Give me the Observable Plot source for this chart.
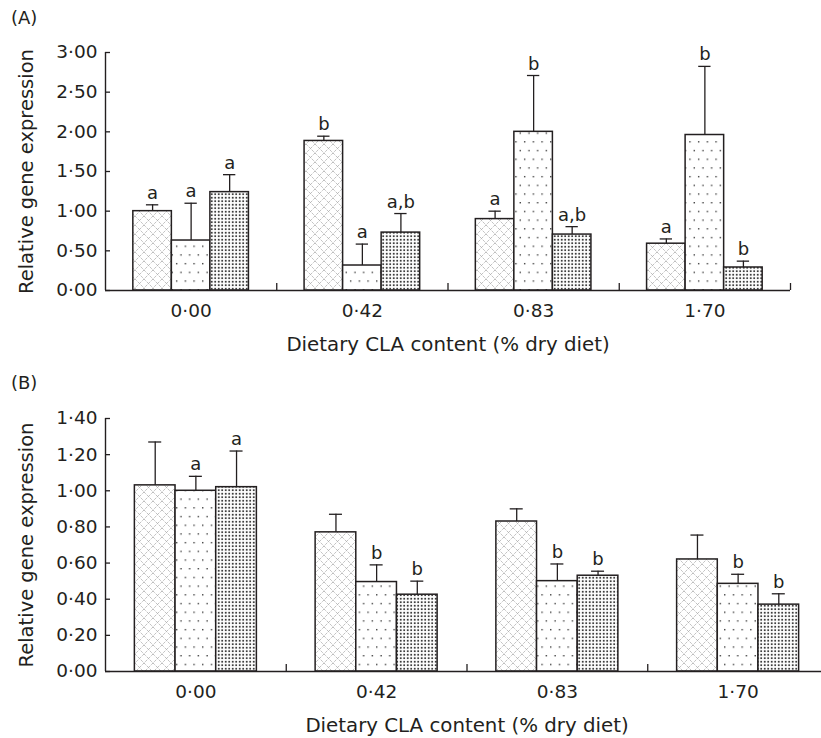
<!DOCTYPE html>
<html>
<head>
<meta charset="utf-8">
<script src="https://cdn.jsdelivr.net/npm/d3@7"></script>
<script src="https://cdn.jsdelivr.net/npm/@observablehq/plot@0.6"></script>
<style>
  html, body { margin: 0; padding: 0; background: #fff; }
  body { width: 821px; height: 738px; overflow: hidden; position: relative;
         font-family: "DejaVu Sans", sans-serif; color: #231f20; }
  .panel-label { position: absolute; left: 11px; font-size: 18px; line-height: 1; }
  #panelA { position: absolute; left: 0; top: 0; width: 821px; }
  #panelB { position: absolute; left: 0; top: 366px; width: 860px; }
  #panelA svg, #panelB svg { max-width: none !important; }
</style>
</head>
<body>
<svg width="0" height="0" style="position:absolute">
  <defs>
    <pattern id="p1" patternUnits="userSpaceOnUse" width="9" height="9">
      <rect width="9" height="9" fill="#fff"/>
      <path d="M0,0L9,9M9,0L0,9" stroke="#939393" stroke-width="0.8" stroke-dasharray="1.1 1" fill="none"/>
    </pattern>
    <pattern id="p2" patternUnits="userSpaceOnUse" width="8.7" height="17.4">
      <rect width="8.7" height="17.4" fill="#fff"/>
      <rect x="2" y="2" width="1.3" height="1.3" fill="#222"/>
      <rect x="6.35" y="10.7" width="1.3" height="1.3" fill="#222"/>
    </pattern>
    <pattern id="p3" patternUnits="userSpaceOnUse" width="3.5" height="3.5">
      <rect width="3.5" height="3.5" fill="#fff"/>
      <rect x="0.8" y="0.8" width="1.8" height="1.8" fill="#3a3a3a"/>
    </pattern>
  </defs>
</svg>
<div class="panel-label" style="top:9px">(A)</div>
<div id="panelA"></div>
<div class="panel-label" style="top:374px">(B)</div>
<div id="panelB"></div>
<script>
// ---- data ----
const groups = ["0·00", "0·42", "0·83", "1·70"];
const seriesPatterns = ["p1", "p2", "p3"];

const aMeans = [
  [1.00, 1.885, 0.90, 0.59],
  [0.63, 0.315, 2.00, 1.96],
  [1.24, 0.73, 0.705, 0.29]
];
const aErrs = [
  [0.08, 0.06, 0.10, 0.06],
  [0.47, 0.27, 0.71, 0.865],
  [0.22, 0.24, 0.10, 0.08]
];
const aLetters = [
  ["a", "b", "a", "a"],
  ["a", "a", "b", "b"],
  ["a", "a,b", "a,b", "b"]
];
const aYTicks = [0, 0.5, 1, 1.5, 2, 2.5, 3];

const bMeans = [
  [1.03, 0.77, 0.83, 0.62],
  [1.00, 0.495, 0.50, 0.485],
  [1.02, 0.425, 0.53, 0.37]
];
const bErrs = [
  [0.24, 0.10, 0.07, 0.135],
  [0.08, 0.095, 0.095, 0.053],
  [0.20, 0.075, 0.025, 0.06]
];
const bLetters = [
  ["", "", "", ""],
  ["a", "b", "b", "b"],
  ["a", "b", "b", "b"]
];
const bYTicks = [0, 0.2, 0.4, 0.6, 0.8, 1.0, 1.2, 1.4];

const xTitle = "Dietary CLA content (% dry diet)";
const yTitle = "Relative gene expression";

// ---- style ----
const ink = "#231f20";
const BAR = 0.225;   // bar width as a fraction of one group slot
const CAP = 0.072;   // error cap width as a fraction of one group slot
const fmt = d => d.toFixed(2).replace(".", "·");

function panel(means, errs, letters, yTicks, {width, marginRight, height}) {
  const rows = means.flatMap((vals, s) => vals.map((mean, g) => ({
    g, s, mean, err: errs[s][g], top: mean + errs[s][g], letter: letters[s][g]
  })));
  const x1 = d => d.g + 0.5 + (d.s - 1.5) * BAR;
  const x2 = d => x1(d) + BAR;
  const xc = d => x1(d) + BAR / 2;
  const slots = groups.map((_, i) => i + 0.5);
  const bounds = groups.map((_, i) => i + 1);
  const yMax = yTicks[yTicks.length - 1];
  return Plot.plot({
    width, height,
    marginLeft: 105, marginRight, marginTop: 52, marginBottom: 70,
    style: {fontFamily: "DejaVu Sans, sans-serif", fontSize: "18px", color: ink,
            background: "transparent", overflow: "visible", maxWidth: "none"},
    x: {domain: [0, groups.length]},
    y: {domain: [0, yMax]},
    marks: [
      ...seriesPatterns.map((p, s) => Plot.rect(rows.filter(d => d.s === s), {
        x1, x2, y1: 0, y2: "mean", fill: `url(#${p})`, stroke: ink, strokeWidth: 1.5
      })),
      Plot.ruleX(rows, {x: xc, y1: "mean", y2: "top", stroke: ink, strokeWidth: 1.3}),
      Plot.ruleY(rows, {y: "top", x1: d => xc(d) - CAP / 2, x2: d => xc(d) + CAP / 2, stroke: ink, strokeWidth: 1.3}),
      Plot.text(rows, {x: xc, y: "top", text: "letter", lineAnchor: "bottom", dy: -6, fontSize: 18, fill: ink}),
      Plot.ruleY([0], {x1: 0, x2: groups.length, stroke: ink, strokeWidth: 1.4}),
      Plot.ruleX([0], {y1: 0, y2: yMax, stroke: ink, strokeWidth: 1.4}),
      Plot.axisY({ticks: yTicks, tickSize: -5, tickFormat: () => "", label: null, strokeWidth: 1.3}),
      Plot.axisY({ticks: yTicks, tickSize: 0, tickPadding: 8, tickFormat: fmt, label: null, fontSize: 18.5}),
      Plot.axisY({ticks: [], label: yTitle, labelAnchor: "center", labelArrow: "none", labelOffset: 86, fontSize: 19.5}),
      Plot.axisX({ticks: bounds, tickSize: -7, tickFormat: () => "", label: null, strokeWidth: 1.3}),
      Plot.axisX({ticks: slots, tickSize: 0, tickPadding: 13, tickFormat: d => groups[Math.floor(d)], label: null, fontSize: 18.5}),
      Plot.axisX({ticks: [], label: xTitle, labelAnchor: "center", labelArrow: "none", labelOffset: 60, fontSize: 19.8})
    ]
  });
}

document.getElementById("panelA").append(
  panel(aMeans, aErrs, aLetters, aYTicks, {width: 821, marginRight: 31, height: 360})
);
document.getElementById("panelB").append(
  panel(bMeans, bErrs, bLetters, bYTicks, {width: 860, marginRight: 32, height: 375})
);
</script>
</body>
</html>
